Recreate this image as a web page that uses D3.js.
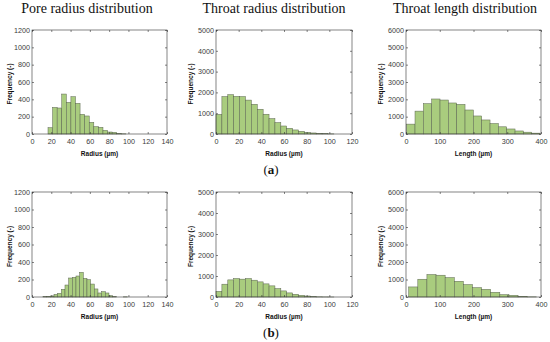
<!DOCTYPE html>
<html>
<head>
<meta charset="utf-8">
<script src="https://cdn.jsdelivr.net/npm/d3@7"></script>
<style>body{margin:0;background:#fff}</style>
</head>
<body>
<script>
// bin edges (µm) and counts
var poreEdgesA = [16.6, 21.35, 26.1, 30.85, 35.6, 40.35, 45.1, 49.85, 54.6, 59.35, 64.1, 68.85, 73.6, 78.35, 83.1, 87.85, 92.6, 97.35];
var poreCountsA = [73, 307, 300, 461, 365, 430, 354, 227, 208, 135, 85, 77, 42, 23, 19, 5, 2];

var poreEdgesB = [11.4, 15.2, 19, 22.8, 26.6, 30.4, 34.2, 38, 41.8, 45.6, 49.4, 53.2, 57, 60.8, 64.6, 68.4, 72.2, 76, 79.8, 83.6, 87.4, 91.2, 95, 98.8];
var poreCountsB = [3, 8, 12, 30, 42, 88, 137, 217, 225, 240, 282, 213, 198, 148, 92, 46, 61, 46, 15, 3, 0, 0, 2];

var throatREdges = [0, 5.2, 10.4, 15.6, 20.8, 26, 31.2, 36.4, 41.6, 46.8, 52, 57.2, 62.4, 67.6, 72.8, 78, 83.2, 88.4, 93.6, 98.8, 104];
var throatRCountsA = [945, 1800, 1890, 1810, 1800, 1630, 1430, 1190, 950, 740, 550, 385, 275, 195, 130, 80, 50, 30, 15, 5];
var throatRCountsB = [270, 610, 815, 880, 850, 880, 800, 720, 625, 530, 400, 290, 195, 130, 80, 48, 20, 8, 3, 1];

var throatLEdgesA = [2, 26.7, 51.4, 76.1, 100.8, 125.5, 150.2, 174.9, 199.6, 224.3, 249, 273.7, 298.4, 323.1, 347.8, 372.5, 397.2];
var throatLCountsA = [570, 1320, 1750, 2020, 1960, 1790, 1710, 1385, 1040, 810, 605, 415, 290, 175, 105, 50];

var throatLEdgesB = [8, 35, 62, 89, 116, 143, 170, 197, 224, 251, 278, 305, 332, 359, 386];
var throatLCountsB = [575, 1015, 1285, 1245, 1110, 900, 710, 535, 440, 270, 135, 95, 38, 8];

var titles = ["Pore radius distribution", "Throat radius distribution", "Throat length distribution"];
var xLabels = ["Radius (µm)", "Radius (µm)", "Length (µm)"];
var xMax = [140, 120, 400];
var yMax = [1200, 5000, 6000];
var xTicks = [[0, 20, 40, 60, 80, 100, 120, 140], [0, 20, 40, 60, 80, 100, 120], [0, 100, 200, 300, 400]];
var yTicks = [[0, 200, 400, 600, 800, 1000, 1200], [0, 1000, 2000, 3000, 4000, 5000], [0, 1000, 2000, 3000, 4000, 5000, 6000]];
var panelLetters = ["a", "b"];

var rows = [
  [[poreEdgesA, poreCountsA], [throatREdges, throatRCountsA], [throatLEdgesA, throatLCountsA]],
  [[poreEdgesB, poreCountsB], [throatREdges, throatRCountsB], [throatLEdgesB, throatLCountsB]]
];

var W = 550, H = 342;
var colLeft = [32, 216, 406], colW = [135, 136, 135];
var rowTop = [30, 192], rowH = [104, 105];

var svg = d3.select("body").append("svg")
    .attr("width", W)
    .attr("height", H)
    .style("background", "#fff");

var sans = "'Liberation Sans', Arial, Helvetica, sans-serif";
var serif = "'Palatino Linotype', 'Book Antiqua', Palatino, 'Liberation Serif', serif";
var fmt = d3.format("d");

// column titles
var titleX = [87, 274, 465];
titles.forEach(function(t, i) {
  svg.append("text")
      .attr("x", titleX[i])
      .attr("y", 12.5)
      .attr("text-anchor", "middle")
      .style("font-family", serif)
      .style("font-size", "14px")
      .style("fill", "#111")
      .text(t);
});

function drawPanel(r, c) {
  var edges = rows[r][c][0], counts = rows[r][c][1];
  var x0 = colLeft[c], y0 = rowTop[r], w = colW[c], h = rowH[r];

  var x = d3.scaleLinear().domain([0, xMax[c]]).range([0, w]);
  var y = d3.scaleLinear().domain([0, yMax[c]]).range([h, 0]);

  var g = svg.append("g").attr("transform", "translate(" + x0 + "," + y0 + ")");

  // bars
  g.selectAll("rect.bar")
    .data(counts)
    .enter().append("rect")
      .attr("class", "bar")
      .attr("x", function(d, i) { return x(edges[i]); })
      .attr("width", function(d, i) { return x(edges[i + 1]) - x(edges[i]); })
      .attr("y", function(d) { return y(d); })
      .attr("height", function(d) { return h - y(d); })
      .attr("fill", "#a9cc7e")
      .attr("stroke", "#5b6450")
      .attr("stroke-width", 0.5);

  // axes, ticks pointing inwards
  var xAxis = g.append("g").attr("transform", "translate(0," + h + ")")
      .call(d3.axisBottom(x).tickValues(xTicks[c]).tickFormat(fmt).tickSizeInner(-2).tickSizeOuter(0).tickPadding(5));
  var xTop = g.append("g")
      .call(d3.axisTop(x).tickValues(xTicks[c]).tickSizeInner(-2).tickSizeOuter(0).tickFormat(""));
  var yAxis = g.append("g")
      .call(d3.axisLeft(y).tickValues(yTicks[c]).tickFormat(fmt).tickSizeInner(-2).tickSizeOuter(0).tickPadding(2));
  var yRight = g.append("g").attr("transform", "translate(" + w + ",0)")
      .call(d3.axisRight(y).tickValues(yTicks[c]).tickSizeInner(-2).tickSizeOuter(0).tickFormat(""));

  [xAxis, xTop, yAxis, yRight].forEach(function(a) {
    a.select(".domain").remove();
    a.selectAll("line").attr("stroke", "#333").attr("stroke-width", 0.6);
    a.selectAll("text")
      .style("font-family", sans)
      .style("font-size", "7.2px")
      .style("fill", "#3a3a3a");
  });

  // box
  g.append("rect")
      .attr("width", w)
      .attr("height", h)
      .attr("fill", "none")
      .attr("stroke", "#333")
      .attr("stroke-width", 0.6);

  // axis labels
  g.append("text")
      .attr("x", w / 2)
      .attr("y", h + 21.5)
      .attr("text-anchor", "middle")
      .style("font-family", sans)
      .style("font-weight", "bold")
      .style("font-size", "6.5px")
      .style("fill", "#111")
      .text(xLabels[c]);

  var yLabX = [10, 191, 381][c] - x0;
  g.append("text")
      .attr("transform", "translate(" + yLabX + "," + (h / 2 + 2) + ") rotate(-90)")
      .attr("text-anchor", "middle")
      .attr("dy", "0.35em")
      .style("font-family", sans)
      .style("font-weight", "bold")
      .style("font-size", "6.5px")
      .style("fill", "#111")
      .text("Frequency (-)");
}

for (var r = 0; r < 2; r++) {
  for (var c = 0; c < 3; c++) drawPanel(r, c);
}

// (a) / (b) captions
var capY = [174, 337];
panelLetters.forEach(function(l, i) {
  var t = svg.append("text")
      .attr("x", 271)
      .attr("y", capY[i])
      .attr("text-anchor", "middle")
      .style("font-family", serif)
      .style("font-size", "13px")
      .style("fill", "#111");
  t.append("tspan").text("(");
  t.append("tspan").style("font-weight", "bold").text(l);
  t.append("tspan").text(")");
});
</script>
</body>
</html>
